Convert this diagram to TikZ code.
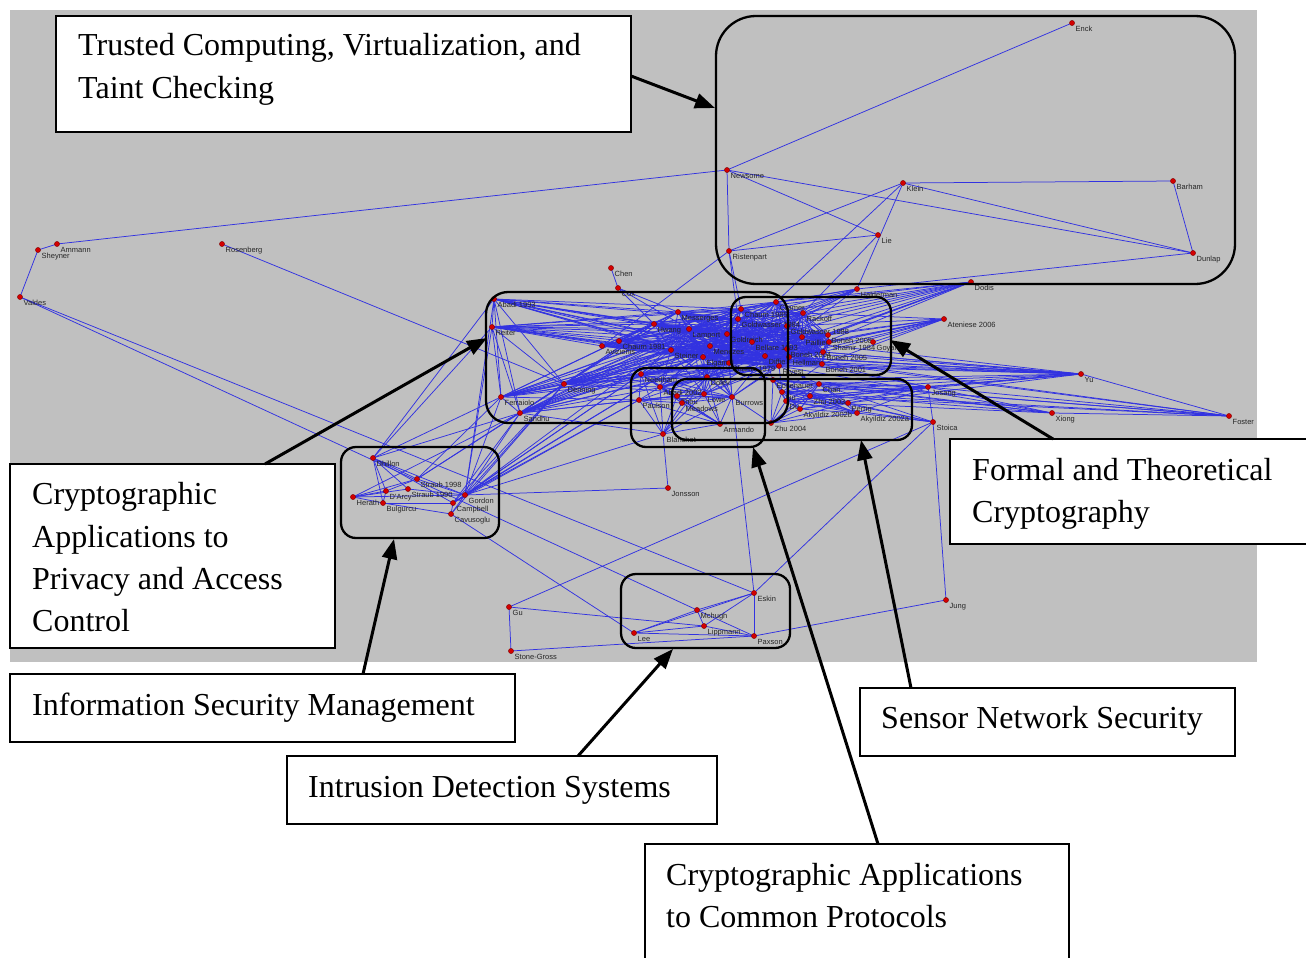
\documentclass[tikz,border=0pt]{standalone}
\usepackage{fontspec}
\setmainfont{Liberation Serif}
\newfontfamily\lblfont{Liberation Sans}
\usetikzlibrary{arrows.meta}
\definecolor{bggray}{RGB}{192,192,192}
\definecolor{edgeblue}{RGB}{50,50,225}
\definecolor{dotred}{RGB}{210,0,0}
\tikzset{
  edge/.style={edgeblue,line width=0.75pt},
  lbl/.style={anchor=north west,inner sep=0pt,font=\lblfont\fontsize{7.5}{8}\selectfont,text=black!85,text height=5.6pt,text depth=1.4pt},
  cluster/.style={draw=black,line width=2.3pt},
  tbox/.style={draw=black,fill=white,line width=1.6pt},
  btxt/.style={anchor=base west,inner sep=0pt,font=\fontsize{32}{42}\selectfont},
  callout/.style={line width=3pt,-{Triangle[length=20pt,width=15pt]}},
}
\newcommand\kgraph[1]{\foreach \a [count=\i] in {#1} {\foreach \b [count=\j] in {#1} {\ifnum\j>\i \draw[edge] (\a) -- (\b);\fi}}}
\newcommand\fanout[2]{\foreach \b in {#2} {\draw[edge] (#1) -- (\b);}}
\newcommand\nodelist{%
Enck/1072/23/Enck,Newsome/727/170/Newsome,Klein/903/183/Klein,Barham/1173/181/Barham,Lie/878/235/Lie,Ristenpart/729/251/Ristenpart,Dunlap/1193/253/Dunlap,
Sheyner/38/250/Sheyner,Ammann/57/244/Ammann,Rosenberg/222/244/Rosenberg,Valdes/20/297/Valdes,Chen/611/268/Chen,Cox/618/288/Cox,Halderman/857/289/Halderman,
Dodis/971/282/Dodis,Ateniese/944/319/Ateniese 2006,Yu/1081/374/Yu,Josang/928/387/Josang,Xiong/1052/413/Xiong,Foster/1229/416/Foster,Stoica/933/422/Stoica,
Jonsson/668/488/Jonsson,Gu/509/607/Gu,StoneGross/511/651/Stone-Gross,Eskin/754/593/Eskin,Mchugh/697/610/Mchugh,Lippmann/704/626/Lippmann,Lee/634/633/Lee,
Paxson/754/636/Paxson,Jung/946/600/Jung,Dhillon/373/458/Dhillon,StraubA/417/479/Straub 1998,StraubB/408/489/Straub 1990,DArcy/386/491/D'Arcy,
Herath/353/497/Herath,Bulgurcu/383/503/Bulgurcu,Gordon/465/495/Gordon,Campbell/453/503/Campbell,Cavusoglu/451/514/Cavusoglu,
AbadiA/494/299/Abadi 1993,Reiter/492/327/Reiter,Messerges/678/312/Messerges,Hwang/654/324/Hwang,Lamport/689/329/Lamport,Avizienis/602/346/Avizienis,
ChaumA/619/341/Chaum 1981,Steiner/671/350/Steiner,Menezes/710/346/Menezes,Elgamal/703/357/Elgamal,Denning/564/384/Denning,Ferraiolo/501/397/Ferraiolo,
Sandhu/520/413/Sandhu,Needham/641/374/Needham,AbadiB/660/387/Abadi 2002,Paulson/639/400/Paulson,Zhou/677/396/Zhou,Meadows/682/403/Meadows,
Dolev/707/377/Dolev,Lowe/704/394/Lowe,Burrows/732/397/Burrows,Blanchet/663/434/Blanchet,Armando/720/424/Armando,
ChaumB/741/309/Chaum 1985,GoldwasserA/738/319/Goldwasser 1984,Cramer/776/302/Cramer,Rackoff/803/313/Rackoff,GoldwasserB/787/326/Goldwasser 1988,
Goldreich/727/334/Goldreich,Paillier/802/337/Paillier,BonehA/828/335/Boneh 2008,ShamirB/829/342/Shamir 1984,Goyal/873/342/Goyal,Bellare/752/342/Bellare 1993,
BonehB/787/349/Boneh 2004,Diffie/765/356/Diffie,Hellman/789/357/Hellman,BonehC/823/352/Boneh 2005,BonehD/822/364/Boneh 2001,ShamirA/729/363/Shamir 1979,
Rivest/779/366/Rivest,Echenauer/773/380/Echenauer,Chan/819/384/Chan,Liu/782/392/Liu,Du/786/401/Du,ZhuA/810/396/Zhu 2003,Perrig/848/403/Perrig,
AkyB/800/409/Akyildiz 2002b,AkyA/857/413/Akyildiz 2002a,ZhuB/771/423/Zhu 2004}
\begin{document}
\begin{tikzpicture}[x=1pt,y=-1pt]
\useasboundingbox (0,0) rectangle (1306,958);
\fill[bggray] (10,10) rectangle (1257,662);
% coordinates
\foreach \n/\x/\y/\lab in \nodelist {\coordinate (\n) at (\x,\y);}
% ---- edges ----
\kgraph{ChaumB,GoldwasserA,Cramer,Rackoff,GoldwasserB,Goldreich,Paillier,BonehA,ShamirB,Bellare,BonehB,Diffie,Hellman,BonehC,BonehD,ShamirA,Rivest,Menezes,Elgamal,Lamport,Steiner,Messerges,Hwang}
\foreach \s in {AbadiA,Reiter,Denning,ChaumA,Avizienis,Ferraiolo,Sandhu}
  {\fanout{\s}{Messerges,Hwang,Lamport,Steiner,Menezes,Elgamal,Goldreich,ShamirA,Rivest,Diffie,Bellare,GoldwasserA,ChaumB}}
\foreach \a/\b in {AbadiA/Reiter,AbadiA/Ferraiolo,AbadiA/Sandhu,Reiter/Sandhu,Reiter/Ferraiolo,Reiter/Denning,Denning/Sandhu,Denning/Ferraiolo,Ferraiolo/Sandhu,Avizienis/ChaumA,AbadiA/Denning,Reiter/Avizienis}
  {\draw[edge] (\a) -- (\b);}
\kgraph{Needham,AbadiB,Paulson,Zhou,Meadows,Dolev,Lowe,Burrows,Blanchet,Armando}
\foreach \s in {Needham,AbadiB,Dolev,Lowe,Burrows}
  {\fanout{\s}{Menezes,Elgamal,ShamirA,Rivest,Diffie,Hellman,Goldreich,Lamport,Steiner}}
\foreach \a/\b in {Needham/Denning,Needham/Sandhu,Paulson/Sandhu,Paulson/Ferraiolo,AbadiB/Denning,Blanchet/Sandhu,Zhou/Sandhu,Lowe/Denning,Dolev/Denning,Armando/ZhuB,Burrows/ZhuB}
  {\draw[edge] (\a) -- (\b);}
\kgraph{Echenauer,Chan,Liu,Du,ZhuA,Perrig,AkyB,AkyA,ZhuB}
\foreach \a/\b in {Echenauer/Diffie,Chan/Rivest,Liu/BonehD,Du/Hellman,Echenauer/ShamirA,Liu/Rivest}
  {\draw[edge] (\a) -- (\b);}
\fanout{Dodis}{ChaumB,GoldwasserA,Cramer,Rackoff,GoldwasserB,Goldreich,Paillier,BonehA,Bellare,BonehB,Diffie,Hellman}
\fanout{Ateniese}{BonehA,BonehB,BonehC,BonehD,Paillier,ShamirB,Goyal,Diffie,Hellman,GoldwasserB,Rackoff}
\fanout{Yu}{Menezes,Elgamal,Diffie,Hellman,ShamirA,Rivest,BonehD,BonehC,BonehB,Echenauer,Chan,Liu,Du,ZhuA,Goldreich,Steiner,Perrig,Josang}
\fanout{Foster}{Yu,Josang,Xiong,Chan,Liu,Diffie,Hellman,ZhuA,Echenauer}
\fanout{Xiong}{Josang,Chan,Liu,Du,Echenauer,Rivest}
\fanout{Josang}{Chan,Liu,Du,ZhuA,Perrig,AkyA,AkyB,Echenauer,Stoica,Diffie,Hellman}
\fanout{Stoica}{Jung,Gu,Eskin,AkyA,Perrig,ZhuA,Du,Chan}
\fanout{Halderman}{ChaumB,Cramer,Rackoff,GoldwasserA,Goldreich,Menezes,GoldwasserB,Bellare,Klein,Dunlap,Diffie}
\foreach \a/\b in {Enck/Newsome,Newsome/Ammann,Newsome/Lie,Newsome/Dunlap,Newsome/Ristenpart,Klein/Ristenpart,Lie/Ristenpart,Klein/Barham,Klein/Dunlap,Barham/Dunlap,Klein/Cramer,Lie/Rackoff,Ristenpart/GoldwasserA,Ristenpart/ChaumB,Ristenpart/Avizienis,
  Sheyner/Ammann,Sheyner/Valdes,Valdes/Eskin,Valdes/Mchugh,Rosenberg/Denning,Chen/Cox,Cox/Messerges,Cox/Lamport,Cox/Hwang}
  {\draw[edge] (\a) -- (\b);}
\foreach \a/\b in {Dhillon/StraubA,Dhillon/StraubB,Dhillon/Gordon,Dhillon/Campbell,Dhillon/Bulgurcu,Dhillon/DArcy,StraubA/DArcy,StraubA/Herath,StraubB/Herath,StraubB/Gordon,DArcy/Herath,DArcy/Bulgurcu,Herath/Gordon,Herath/Bulgurcu,Bulgurcu/Campbell,Bulgurcu/Cavusoglu,Gordon/Campbell,Campbell/Cavusoglu,Gordon/Cavusoglu,StraubA/Gordon}
  {\draw[edge] (\a) -- (\b);}
\fanout{Gordon}{Sandhu,Denning,Ferraiolo,AbadiA,Reiter,Needham,Paulson,Blanchet,Lamport,Menezes,Jonsson}
\fanout{Campbell}{Denning,Sandhu,Paulson,Needham,Menezes}
\fanout{Cavusoglu}{Lee,Denning}
\fanout{Dhillon}{Ferraiolo,Sandhu,AbadiA,Reiter}
\fanout{StraubA}{Sandhu,Denning,Ferraiolo}
\draw[edge] (Herath) -- (Sandhu);
\draw[edge] (Jonsson) -- (Blanchet);
\foreach \a/\b in {Eskin/Paxson,Eskin/Mchugh,Eskin/Lee,Eskin/Lippmann,Mchugh/Lee,Mchugh/Lippmann,Lippmann/Lee,Lippmann/Paxson,Lee/Paxson,Mchugh/Paxson,Gu/StoneGross,Gu/Lippmann,StoneGross/Paxson,Jung/Paxson,Eskin/Burrows}
  {\draw[edge] (\a) -- (\b);}
% ---- dots and labels ----
\foreach \n/\x/\y/\lab in \nodelist {
  \fill[dotred,draw=dotred!55!black,line width=0.3pt] (\n) circle (2.6);
  \node[lbl] (\n-lab) at ([shift={(3.5,2.5)}]\n) {\lab};
}
% ---- clusters ----
\draw[cluster,rounded corners=40pt] (716,16) rectangle (1235,284);
\draw[cluster,rounded corners=22pt] (486,292) rectangle (788,423);
\draw[cluster,rounded corners=15pt] (731,297) rectangle (891,375);
\draw[cluster,rounded corners=15pt] (631,368) rectangle (765,447);
\draw[cluster,rounded corners=15pt] (672,379) rectangle (912,440);
\draw[cluster,rounded corners=15pt] (341,447) rectangle (499,538);
\draw[cluster,rounded corners=15pt] (621,574) rectangle (790,648);
% ---- text boxes ----
\draw[tbox] (56,16) rectangle (631,132);
\node[btxt] (t1a) at (78,56) {Trusted Computing, Virtualization, and};
\node[btxt] (t1b) at (78,99) {Taint Checking};
\draw[tbox] (10,464) rectangle (335,648);
\node[btxt] (t2a) at (32,504) {Cryptographic};
\node[btxt] (t2b) at (32,547) {Applications to};
\node[btxt] (t2c) at (32,589) {Privacy and Access};
\node[btxt] (t2d) at (32,631) {Control};
\draw[tbox] (950,439) rectangle (1312,544);
\node[btxt] (t3a) at (972,480) {Formal and Theoretical};
\node[btxt] (t3b) at (972,522) {Cryptography};
\draw[tbox] (10,674) rectangle (515,742);
\node[btxt] (t4) at (32,715) {Information Security Management};
\draw[tbox] (287,756) rectangle (717,824);
\node[btxt] (t5) at (308,797) {Intrusion Detection Systems};
\draw[tbox] (860,688) rectangle (1235,756);
\node[btxt] (t6) at (881,728) {Sensor Network Security};
\draw[tbox] (645,844) rectangle (1069,970);
\node[btxt] (t7a) at (666,885) {Cryptographic Applications};
\node[btxt] (t7b) at (666,927) {to Common Protocols};
% ---- callout arrows ----
\coordinate (s1) at (631,76);   \coordinate (e1) at (715,108);
\coordinate (s2) at (265,464);  \coordinate (e2) at (487,338);
\coordinate (s3) at (1053,439); \coordinate (e3) at (890,340);
\coordinate (s4) at (363,674);  \coordinate (e4) at (394,539);
\coordinate (s5) at (578,756);  \coordinate (e5) at (673,649);
\coordinate (s6) at (878,844);  \coordinate (e6) at (753,447);
\coordinate (s7) at (911,688);  \coordinate (e7) at (861,440);
\foreach \i in {1,...,7} {\draw[callout] (s\i) -- (e\i);}
\end{tikzpicture}
\end{document}
